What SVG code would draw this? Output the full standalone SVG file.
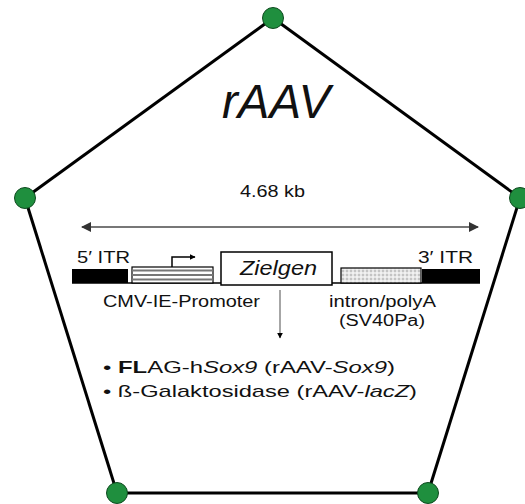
<svg xmlns="http://www.w3.org/2000/svg" width="525" height="504" viewBox="0 0 525 504">
<defs>
<style>
.edge{stroke:#000;stroke-width:3;fill:none}
.node{fill:#1f8f3e;stroke:#0e4a1f;stroke-width:1}
.t{font-family:"Liberation Sans",Arial,sans-serif;fill:#111}
.blk{fill:#000}
</style>
<pattern id="dots" width="4" height="4" patternUnits="userSpaceOnUse">
<rect width="4" height="4" fill="#e6e6e6"/>
<circle cx="1" cy="1" r="0.8" fill="#fff"/>
<circle cx="3" cy="3" r="0.8" fill="#999"/>
</pattern>
<marker id="ah" viewBox="0 0 10 10" refX="9" refY="5" markerWidth="5" markerHeight="5" orient="auto-start-reverse">
<path d="M0,0 L10,5 L0,10 z" fill="#333"/>
</marker>
<marker id="ahb" viewBox="0 0 10 10" refX="9" refY="5" markerWidth="4" markerHeight="4" orient="auto">
<path d="M0,0 L10,5 L0,10 z" fill="#000"/>
</marker>
</defs>
<rect width="525" height="504" fill="#fff"/>
<g id="connectors">
<line class="edge" x1="273" y1="18" x2="520" y2="198"/>
<line class="edge" x1="520" y1="198" x2="428" y2="493"/>
<line class="edge" x1="428" y1="493" x2="117" y2="493"/>
<line class="edge" x1="117" y1="493" x2="25" y2="198"/>
<line class="edge" x1="25" y1="198" x2="273" y2="18"/>
</g>
<g id="n-top"><circle class="node" cx="273" cy="18" r="10.5"/></g>
<g id="n-right"><circle class="node" cx="520" cy="198" r="10.5"/></g>
<g id="n-bottomright"><circle class="node" cx="428" cy="493" r="10.5"/></g>
<g id="n-bottomleft"><circle class="node" cx="117" cy="493" r="10.5"/></g>
<g id="n-left"><circle class="node" cx="25" cy="198" r="10.5"/></g>
<g id="content">
<text class="t" x="222" y="118" font-size="48" font-style="italic" textLength="108" lengthAdjust="spacingAndGlyphs">rAAV</text>
<text class="t" x="240" y="197" font-size="16" textLength="65" lengthAdjust="spacingAndGlyphs">4.68 kb</text>
<line x1="82" y1="227" x2="478" y2="227" stroke="#777" stroke-width="2" marker-start="url(#ah)" marker-end="url(#ah)"/>
<line x1="72" y1="283" x2="480" y2="283" stroke="#000" stroke-width="1.5"/>
<rect x="72" y="269" width="56" height="14" class="blk"/>
<rect x="422" y="269" width="58" height="14" class="blk"/>
<rect x="132" y="267" width="81" height="16" fill="#fff" stroke="#000" stroke-width="1.2"/>
<g stroke="#777" stroke-width="1.8">
<line x1="132" y1="270.5" x2="213" y2="270.5"/>
<line x1="132" y1="275" x2="213" y2="275"/>
<line x1="132" y1="279.5" x2="213" y2="279.5"/>
</g>
<polyline points="172,267 172,257 195,257" fill="none" stroke="#000" stroke-width="1.5" marker-end="url(#ahb)"/>
<rect x="221" y="252" width="111" height="33" fill="#fff" stroke="#000" stroke-width="1.5"/>
<rect x="341" y="268" width="80" height="15" fill="url(#dots)" stroke="#000" stroke-width="1.2"/>
<line x1="280" y1="290" x2="280" y2="338" stroke="#888" stroke-width="1.5" marker-end="url(#ahb)"/>
<text class="t" x="240" y="275" font-size="20" font-style="italic" textLength="77" lengthAdjust="spacingAndGlyphs">Zielgen</text>
<text class="t" x="77" y="263" font-size="16" textLength="53" lengthAdjust="spacingAndGlyphs">5′ ITR</text>
<text class="t" x="418" y="263" font-size="16" textLength="55" lengthAdjust="spacingAndGlyphs">3′ ITR</text>
<text class="t" x="103" y="307" font-size="16" textLength="157" lengthAdjust="spacingAndGlyphs">CMV-IE-Promoter</text>
<text class="t" x="329" y="307" font-size="16" textLength="107" lengthAdjust="spacingAndGlyphs">intron/polyA</text>
<text class="t" x="339" y="326" font-size="16" textLength="86" lengthAdjust="spacingAndGlyphs">(SV40Pa)</text>
<text class="t" x="103" y="373" font-size="17" textLength="292" lengthAdjust="spacingAndGlyphs">• <tspan font-weight="bold">FL</tspan>AG-h<tspan font-style="italic">Sox9</tspan> (rAAV-<tspan font-style="italic">Sox9</tspan>)</text>
<text class="t" x="103" y="397" font-size="17" textLength="314" lengthAdjust="spacingAndGlyphs">• ß-Galaktosidase (rAAV-<tspan font-style="italic">lacZ</tspan>)</text>
</g>
</svg>
